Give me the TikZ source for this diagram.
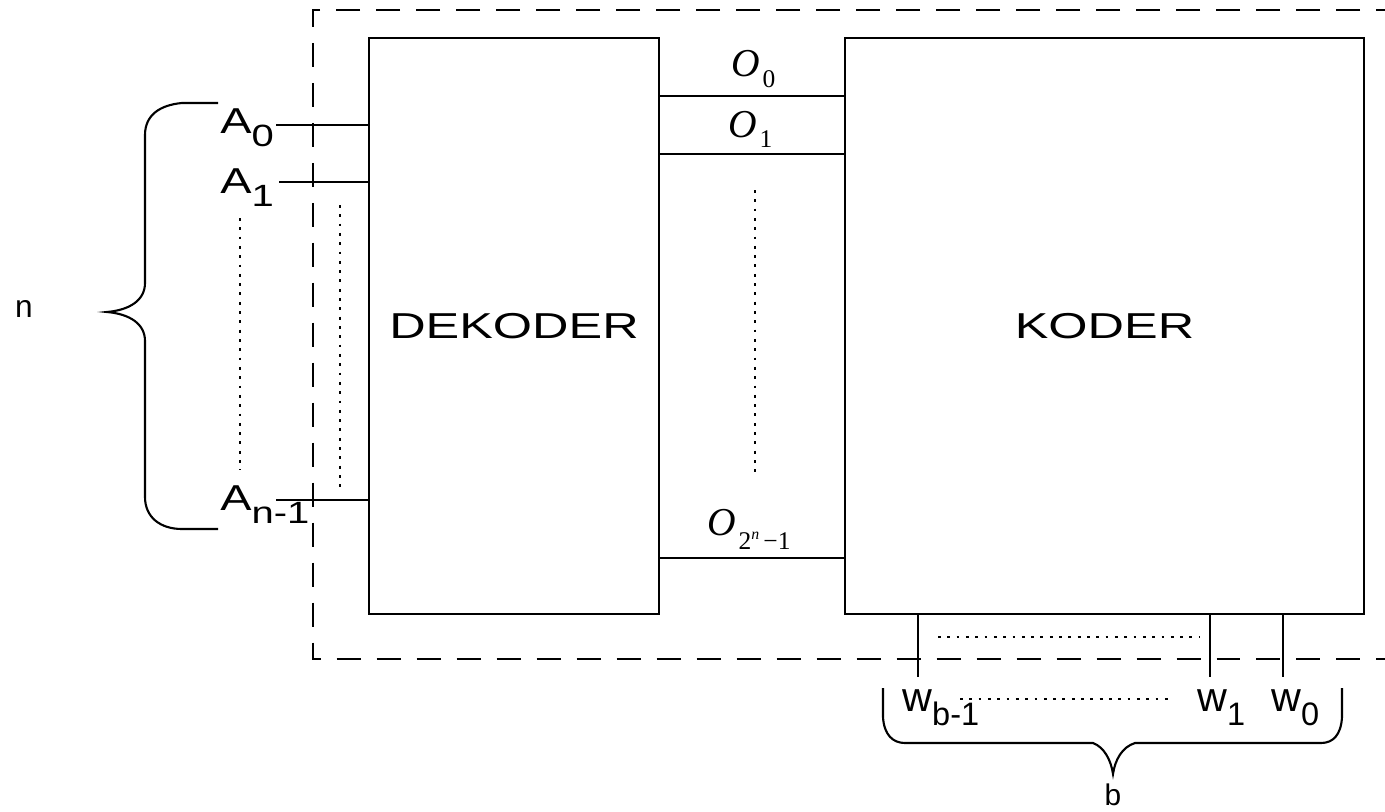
\documentclass[tikz,border=0pt]{standalone}
\usepackage{fontspec}
\setmainfont{Liberation Sans}
\newfontfamily\wider[FakeStretch=1.4]{Liberation Sans}
\newfontfamily\wide[FakeStretch=1.3]{Liberation Sans}
\newfontfamily\serif{Liberation Serif}

\newcommand{\Asig}[1]{{\wide\fontsize{20.5}{24}\selectfont A\raisebox{-7.5pt}{\fontsize{17.5}{20}\selectfont #1}}}
\newcommand{\Osig}[2]{{\serif\fontsize{22.5}{24}\selectfont\textit{O}\kern1.5pt\raisebox{-#2}{\fontsize{14.5}{16}\selectfont #1}}}
\newcommand{\wsig}[1]{{\fontsize{23.5}{26}\selectfont w\raisebox{-8pt}{\fontsize{18.5}{20}\selectfont #1}}}

\tikzset{
	blok/.style={draw, line width=1.4pt, inner sep=0pt},
	wire/.style={line width=1.2pt},
	dotline/.style={line width=1.4pt, dash pattern=on 1.6pt off 3.7pt},
	frame/.style={line width=1.5pt, dash pattern=on 0.48cm off 0.32cm},
	lbl/.style={inner sep=0pt, anchor=base west}
}

\begin{document}
\begin{tikzpicture}[x=0.02cm, y=-0.02cm]
	\useasboundingbox (0, 0) rectangle (1385, 811);

	\draw[frame] (1400, 10) -- (313, 10) -- (313, 659) -- (1400, 659);

	\node[blok, minimum width=5.8cm, minimum height=11.52cm] (dek) at (514, 326) {\wider\fontsize{20.5}{24}\selectfont DEKODER};
	\node[blok, minimum width=10.38cm, minimum height=11.52cm] (kod) at (1104.5, 326) {\wider\fontsize{20.5}{24}\selectfont KODER};

	\node[lbl] (a0) at (220, 133) {\Asig{0}};
	\node[lbl] (a1) at (220, 193) {\Asig{1}};
	\node[lbl] (an) at (220, 510) {\Asig{n-1}};

	\coordinate (a0w) at (276, 125);
	\coordinate (a1w) at (279, 182);
	\coordinate (anw) at (276, 500);
	\draw[wire] (a0w) -- (a0w -| dek.west);
	\draw[wire] (a1w) -- (a1w -| dek.west);
	\draw[wire] (anw) -- (anw -| dek.west);

	\node[lbl] (o0) at (731, 77) {\Osig{0}{6pt}};
	\node[lbl] (o1) at (728, 137) {\Osig{1}{6pt}};
	\node[lbl] (on) at (707, 535) {\Osig{2\raisebox{6pt}{\fontsize{9}{10}\selectfont\textit{n}}\,−1}{8.5pt}};

	\coordinate (o0w) at (659, 96);
	\coordinate (o1w) at (659, 154);
	\coordinate (onw) at (659, 558);
	\draw[wire] (o0w -| dek.east) -- (o0w -| kod.west);
	\draw[wire] (o1w -| dek.east) -- (o1w -| kod.west);
	\draw[wire] (onw -| dek.east) -- (onw -| kod.west);

	\draw[dotline] (240, 218) -- (240, 470);
	\draw[dotline] (340, 205) -- (340, 487);
	\draw[dotline] (755, 190) -- (755, 472);

	\coordinate (wb) at (918, 677);
	\coordinate (w1) at (1210, 677);
	\coordinate (w0) at (1283, 677);
	\draw[wire] (wb |- kod.south) -- (wb);
	\draw[wire] (w1 |- kod.south) -- (w1);
	\draw[wire] (w0 |- kod.south) -- (w0);
	\draw[dotline] (938, 637) -- (1200, 637);

	\node[lbl] (lwb) at (902, 711) {\wsig{b-1}};
	\node[lbl] (lw1) at (1197, 711) {\wsig{1}};
	\node[lbl] (lw0) at (1271, 711) {\wsig{0}};
	\draw[dotline] (960, 699) -- (1172, 699);

	\draw[wire] (218, 103) -- (182, 103) .. controls (160, 105) and (145, 115) .. (145, 135) -- (145, 283)
		.. controls (145, 300) and (130, 310) .. (107, 312) .. controls (130, 314) and (145, 324) .. (145, 341)
		-- (145, 497) .. controls (145, 517) and (160, 529) .. (182, 529) -- (218, 529);
	\node[font=\fontsize{18}{20}\selectfont] (n) at (24, 309) {n};

	\draw[wire] (883, 688) -- (883, 717) .. controls (884, 735) and (893, 743) .. (905, 743) -- (1093, 743)
		.. controls (1104, 747) and (1111, 760) .. (1113, 774) .. controls (1115, 760) and (1122, 747) .. (1135, 743)
		-- (1321, 743) .. controls (1333, 743) and (1341, 735) .. (1342, 717) -- (1342, 688);
	\node[font=\fontsize{17}{19}\selectfont] (b) at (1113, 795) {b};
\end{tikzpicture}
\end{document}
